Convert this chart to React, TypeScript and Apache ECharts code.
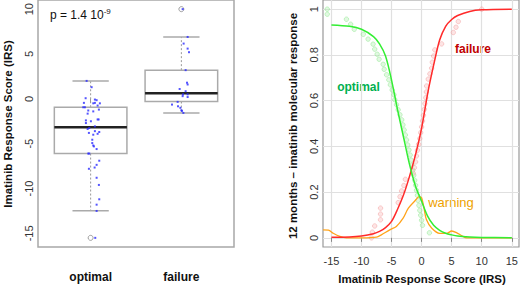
import React, { useEffect, useRef } from 'react';
import * as echarts from 'echarts';

// ---------- Left panel data ----------
const groups = ['optimal', 'failure'];
// [position, lower whisker, Q1, median, Q3, upper whisker]
const boxStats: number[][] = [
  [1, -12.47, -6.1, -3.18, -0.94, 2.0],
  [2, -1.57, -0.3, 0.63, 3.2, 6.9],
];
const outliers: number[][] = [[1, -15.5], [2, 10]];
// jittered position, IRS
const optimalScores: number[][] = [
  [0.956, 2.0], [1.011, 1.3], [0.945, 0.07], [1.047, -0.08], [1.066, -0.15], [0.926, -0.45],
  [1.029, -0.5], [1.047, -0.45], [1.102, -0.5], [1.077, -0.75], [0.919, -0.94], [0.937, -0.94],
  [0.974, -1.3], [1.029, -1.4], [1.091, -1.2], [0.967, -1.65], [0.948, -2.4], [0.948, -2.7],
  [1.003, -2.5], [1.077, -2.3], [1.088, -2.3], [1.047, -3.07], [0.985, -3.25], [0.967, -3.36],
  [1.047, -3.6], [1.095, -3.7], [0.981, -3.8], [1.029, -4.0], [1.077, -3.9], [1.018, -4.56],
  [1.018, -4.93], [1.029, -5.2], [1.036, -5.3], [1.066, -5.6], [0.974, -6.1], [0.985, -6.1],
  [1.095, -6.9], [1.066, -7.36], [0.981, -7.8], [1.044, -7.66], [1.066, -8.8], [1.091, -9.6],
  [1.095, -11.2], [1.066, -11.8], [1.066, -12.5], [1.051, -15.5],
];
const failureScores: number[][] = [
  [2.014, 10], [2.069, 6.9], [2.025, 6.16], [2.069, 5.6], [2.084, 5.2], [2.047, 3.2],
  [2.062, 1.8], [2.069, 1.6], [1.981, 1.1], [2.047, 0.85], [2.018, 0.5], [2.069, 0.5],
  [2.014, 0.3], [2.069, 0.2], [1.959, -0.34], [1.897, -0.64], [1.963, -0.83], [1.989, -1.0],
  [2.0, -1.28], [2.007, -1.34], [2.022, -1.57],
];
const leftYTicks = [-15, -10, -5, 0, 5, 10];
const groupTicks = [1, 2];

// ---------- Right panel data ----------
const rightXTicks = [-15, -10, -5, 0, 5, 10, 15];
const rightYTicks = [0, 0.2, 0.4, 0.6, 0.8, 1];
const optimalCurve: number[][] = [
  [-15, 0.931], [-12, 0.925], [-10, 0.912], [-8, 0.88], [-7, 0.848], [-6, 0.795], [-5, 0.69],
  [-4, 0.56], [-3, 0.44], [-2, 0.32], [-1, 0.225], [0, 0.16], [1, 0.095], [2, 0.055],
  [3, 0.033], [4, 0.02], [5, 0.013], [6, 0.008], [8, 0.004], [10, 0.002], [15, 0.0],
];
const failureCurve: number[][] = [
  [-15, 0.003], [-12, 0.004], [-10, 0.008], [-8, 0.018], [-7, 0.028], [-6, 0.045], [-5, 0.072],
  [-4, 0.125], [-3, 0.188], [-2, 0.27], [-1, 0.365], [0, 0.48], [1, 0.63], [2, 0.755],
  [3, 0.865], [4, 0.925], [5, 0.955], [6, 0.972], [8, 0.99], [10, 0.997], [15, 1.0],
];
const warningCurve: number[][] = [
  [-16.4, 0.035], [-15.5, 0.034], [-14.7, 0.02], [-13.6, 0.006], [-12.5, 0.0], [-10, 0.0],
  [-7.5, 0.003], [-6.7, 0.013], [-5.3, 0.035], [-4.2, 0.05], [-3.1, 0.085], [-2.2, 0.13],
  [-1.1, 0.162], [-0.4, 0.18], [0, 0.175], [0.4, 0.13], [0.8, 0.08], [1.7, 0.042], [3, 0.02],
  [4.2, 0.02], [5, 0.03], [5.8, 0.023], [6.7, 0.009], [7.5, 0.0], [15, 0.0],
];
const optimalDots: number[][] = [
  [-15.7, 1.0], [-15.7, 0.978], [-12.5, 0.956], [-11.8, 0.934], [-11.2, 0.912], [-9.7, 0.89],
  [-8.9, 0.869], [-8.07, 0.847], [-7.8, 0.825], [-7.4, 0.803], [-7.07, 0.781], [-6.4, 0.759],
  [-6.23, 0.737], [-5.83, 0.713], [-5.45, 0.691], [-5.2, 0.669], [-4.9, 0.647], [-4.6, 0.626],
  [-4.45, 0.604], [-4.17, 0.582], [-3.9, 0.56], [-3.6, 0.538], [-3.3, 0.516], [-3.1, 0.494],
  [-2.9, 0.472], [-2.7, 0.45], [-2.5, 0.428], [-2.3, 0.406], [-2.1, 0.384], [-1.9, 0.362],
  [-1.75, 0.34], [-1.6, 0.318], [-1.45, 0.296], [-1.3, 0.274], [-1.15, 0.252], [-1.0, 0.23],
  [-0.85, 0.208], [-0.7, 0.186], [-0.6, 0.164], [-0.45, 0.142], [-0.3, 0.12], [-0.15, 0.099],
  [0, 0.077], [0.15, 0.055], [1.3, 0.022],
];
const failureDots: number[][] = [
  [-8.33, 0.0], [-8.2, 0.025], [-7.8, 0.052], [-6.83, 0.079], [-6.83, 0.104], [-6.83, 0.13],
  [-3.9, 0.154], [-3.6, 0.18], [-3.33, 0.205], [-2.95, 0.229], [-2.7, 0.256], [-1.4, 0.283],
  [-1.2, 0.307], [-1.0, 0.332], [-0.85, 0.358], [-0.7, 0.383], [-0.5, 0.409], [-0.3, 0.434],
  [-0.15, 0.46], [0.0, 0.485], [0.15, 0.511], [0.3, 0.536], [0.45, 0.562], [0.55, 0.587],
  [0.7, 0.613], [0.8, 0.638], [0.83, 0.664], [1.1, 0.694], [1.38, 0.717], [1.67, 0.742],
  [1.78, 0.768], [2.0, 0.795], [2.2, 0.822], [3.33, 0.848], [5.27, 0.898], [5.72, 0.921],
  [6.1, 0.946], [10, 1.0],
];

const FONT = '"Liberation Sans", Arial, sans-serif';

export default function App() {
  const ref = useRef<HTMLDivElement>(null);
  useEffect(() => {
    if (!ref.current) return;
    const chart = echarts.init(ref.current, undefined, { renderer: 'svg' });
    const labelStyle = { fontFamily: FONT, fontSize: 11, color: '#333' };
    const option: any = {
      animation: false,
      backgroundColor: '#fff',
      grid: [
        { left: 38, top: 0, width: 196, height: 247, show: true, borderColor: '#a8a8a8', borderWidth: 1.5, backgroundColor: 'transparent', outerBoundsMode: 'none', containLabel: false },
        { left: 323, top: 0, width: 196, height: 247, show: true, borderColor: '#999', borderWidth: 1.2, backgroundColor: 'transparent', outerBoundsMode: 'none', containLabel: false },
      ],
      xAxis: [
        {
          type: 'value', gridIndex: 0, min: 0.42, max: 2.58,
          axisLine: { show: false },
          splitLine: { show: false },
          axisTick: { show: true, customValues: groupTicks, length: 4, lineStyle: { color: '#999' } },
          axisLabel: {
            customValues: groupTicks, margin: 24,
            formatter: (v: number) => groups[Math.round(v) - 1] || '',
            fontFamily: FONT, fontSize: 12, fontWeight: 'bold', color: '#111',
          },
        },
        {
          type: 'value', gridIndex: 1, min: -16.4, max: 16.2,
          axisLine: { show: false },
          splitLine: { show: true, lineStyle: { color: '#e0e0e0', width: 1.2 } },
          axisTick: { show: true, customValues: rightXTicks, length: 4, lineStyle: { color: '#888' } },
          axisLabel: { ...labelStyle, customValues: rightXTicks, margin: 8 },
        },
      ],
      yAxis: [
        {
          type: 'value', gridIndex: 0, min: -16.52, max: 11.02,
          axisLine: { show: false },
          splitLine: { show: false },
          axisTick: { show: false, customValues: leftYTicks },
          axisLabel: { ...labelStyle, customValues: leftYTicks, rotate: 90, margin: 4 },
        },
        {
          type: 'value', gridIndex: 1, min: -0.04, max: 1.04,
          axisLine: { show: false },
          splitLine: { show: true, lineStyle: { color: '#e0e0e0', width: 1.2 } },
          axisTick: { show: false, customValues: rightYTicks },
          axisLabel: { ...labelStyle, customValues: rightYTicks, rotate: 90, margin: 4 },
        },
      ],
      series: [
        {
          type: 'custom', xAxisIndex: 0, yAxisIndex: 0, data: boxStats,
          encode: { x: 0, y: [1, 2, 3, 4, 5] },
          renderItem: (params: any, api: any) => {
            const x = api.value(0), lo = api.value(1), q1 = api.value(2), med = api.value(3), q3 = api.value(4), hi = api.value(5);
            const c = (a: number, b: number) => api.coord([a, b]);
            const ln = (p1: number[], p2: number[], style: any) => ({ type: 'line', shape: { x1: p1[0], y1: p1[1], x2: p2[0], y2: p2[1] }, style });
            const tl = c(x - 0.4, q3), br = c(x + 0.4, q1);
            const whisk = { stroke: '#9a9a9a', lineWidth: 1, lineDash: [2, 2] };
            const cap = { stroke: '#aaaaaa', lineWidth: 1.5 };
            return {
              type: 'group',
              children: [
                ln(c(x, q3), c(x, hi), whisk),
                ln(c(x, q1), c(x, lo), whisk),
                ln(c(x - 0.2, hi), c(x + 0.2, hi), cap),
                ln(c(x - 0.2, lo), c(x + 0.2, lo), cap),
                { type: 'rect', shape: { x: tl[0], y: tl[1], width: br[0] - tl[0], height: br[1] - tl[1] }, style: { fill: '#fff', stroke: '#aaaaaa', lineWidth: 1.5 } },
                ln(c(x - 0.4, med), c(x + 0.4, med), { stroke: '#222', lineWidth: 2.5 }),
              ],
            };
          },
        },
        {
          type: 'scatter', xAxisIndex: 0, yAxisIndex: 0, data: outliers, symbol: 'circle', symbolSize: 5,
          itemStyle: { color: 'rgba(0,0,0,0)', borderColor: '#888', borderWidth: 1 },
        },
        {
          type: 'scatter', xAxisIndex: 0, yAxisIndex: 0, data: optimalScores.concat(failureScores), symbol: 'rect', symbolSize: 2,
          itemStyle: { color: '#2a2aff' },
        },
        {
          type: 'scatter', xAxisIndex: 1, yAxisIndex: 1, data: optimalDots, symbol: 'circle', symbolSize: 4.5,
          itemStyle: { color: 'rgba(180,240,180,0.5)', borderColor: 'rgba(120,225,120,0.6)', borderWidth: 0.8 },
        },
        {
          type: 'scatter', xAxisIndex: 1, yAxisIndex: 1, data: failureDots, symbol: 'circle', symbolSize: 4.5,
          itemStyle: { color: 'rgba(250,190,190,0.5)', borderColor: 'rgba(240,140,140,0.6)', borderWidth: 0.8 },
        },
        {
          type: 'line', xAxisIndex: 1, yAxisIndex: 1, data: warningCurve, smooth: 0.3, showSymbol: false,
          lineStyle: { color: '#ffa31a', width: 1.3 },
        },
        {
          type: 'line', xAxisIndex: 1, yAxisIndex: 1, data: failureCurve, smooth: 0.3, showSymbol: false,
          lineStyle: { color: '#ff2a2a', width: 1.5 },
        },
        {
          type: 'line', xAxisIndex: 1, yAxisIndex: 1, data: optimalCurve, smooth: 0.3, showSymbol: false,
          lineStyle: { color: '#33ee33', width: 1.5 },
        },
      ],
      graphic: [
        {
          type: 'text', x: 50, y: 15,
          style: {
            text: '{a|p = 1.4 10}{b|-9}', verticalAlign: 'middle', align: 'left',
            rich: {
              a: { fontFamily: FONT, fontSize: 12, fill: '#111', lineHeight: 16 },
              b: { fontFamily: FONT, fontSize: 8, fill: '#111', lineHeight: 16, verticalAlign: 'top' },
            },
          },
        },
        {
          type: 'text', x: 8, y: 124, rotation: Math.PI / 2,
          style: { text: 'Imatinib Response Score (IRS)', fontFamily: FONT, fontSize: 11.5, fontWeight: 'bold', fill: '#111', align: 'center', verticalAlign: 'middle' },
        },
        {
          type: 'text', x: 293, y: 126, rotation: Math.PI / 2,
          style: { text: '12 months \u2013 imatinib molecular response', fontFamily: FONT, fontSize: 11.5, fontWeight: 'bold', fill: '#111', align: 'center', verticalAlign: 'middle' },
        },
        {
          type: 'text', x: 422, y: 279,
          style: { text: 'Imatinib Response Score (IRS)', fontFamily: FONT, fontSize: 11.5, fontWeight: 'bold', fill: '#111', align: 'center', verticalAlign: 'middle' },
        },
        {
          type: 'text', x: 358.5, y: 86.5,
          style: { text: 'optimal', fontFamily: FONT, fontSize: 12, fontWeight: 'bold', fill: '#00b050', align: 'center', verticalAlign: 'middle' },
        },
        {
          type: 'text', x: 473, y: 49,
          style: { text: 'failure', fontFamily: FONT, fontSize: 12, fontWeight: 'bold', fill: '#c00000', align: 'center', verticalAlign: 'middle' },
        },
        {
          type: 'text', x: 451, y: 202,
          style: { text: 'warning', fontFamily: FONT, fontSize: 13, fill: '#eea200', align: 'center', verticalAlign: 'middle' },
        },
      ],
    };
    chart.setOption(option);
    return () => chart.dispose();
  }, []);
  return <div ref={ref} style={{ position: 'fixed', left: 0, top: 0, width: 520, height: 286 }} />;
}
